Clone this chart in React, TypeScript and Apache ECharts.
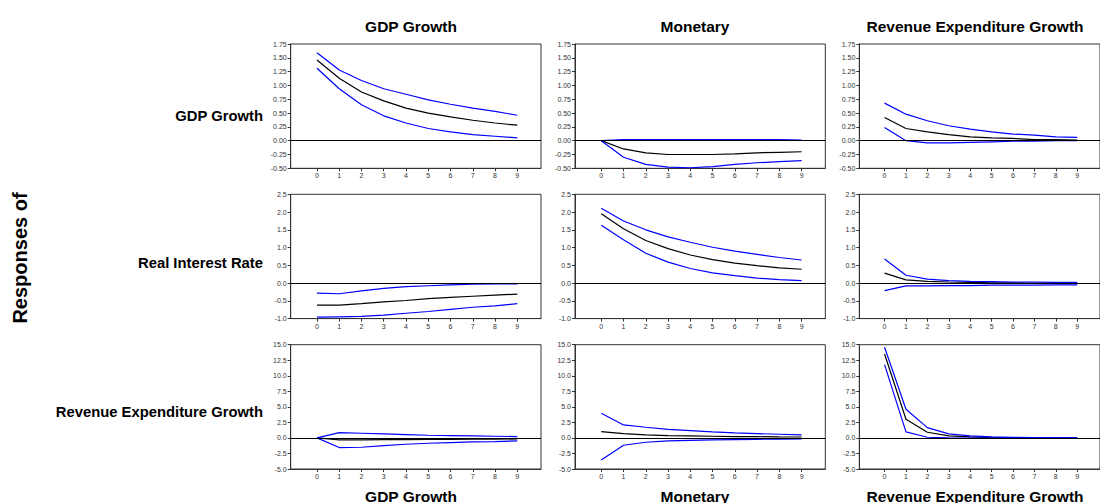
import React, { useEffect, useRef } from "react";
import * as echarts from "echarts";

const steps = [0, 1, 2, 3, 4, 5, 6, 7, 8, 9];
const shockNames = ["GDP Growth", "Monetary", "Revenue Expenditure Growth"];
const responseNames = ["GDP Growth", "Real Interest Rate", "Revenue Expenditure Growth"];

// Row 1: response of GDP Growth
const gdpToGdpUp = [1.59, 1.28, 1.09, 0.94, 0.84, 0.74, 0.66, 0.59, 0.53, 0.46];
const gdpToGdpMid = [1.46, 1.13, 0.88, 0.72, 0.59, 0.5, 0.43, 0.37, 0.32, 0.28];
const gdpToGdpLo = [1.31, 0.94, 0.65, 0.45, 0.32, 0.22, 0.16, 0.11, 0.08, 0.05];

const gdpToMonUp = [0, 0.02, 0.02, 0.02, 0.02, 0.02, 0.02, 0.02, 0.02, 0.01];
const gdpToMonMid = [0, -0.15, -0.22, -0.25, -0.25, -0.25, -0.24, -0.22, -0.21, -0.2];
const gdpToMonLo = [0, -0.3, -0.43, -0.48, -0.49, -0.47, -0.43, -0.4, -0.38, -0.36];

const gdpToRevUp = [0.68, 0.48, 0.36, 0.27, 0.21, 0.16, 0.12, 0.1, 0.07, 0.06];
const gdpToRevMid = [0.42, 0.22, 0.16, 0.11, 0.07, 0.05, 0.04, 0.02, 0.02, 0.01];
const gdpToRevLo = [0.24, 0.0, -0.04, -0.04, -0.03, -0.02, -0.01, -0.01, 0.0, 0.0];

// Row 2: response of Real Interest Rate
const rirToGdpUp = [-0.28, -0.3, -0.22, -0.15, -0.1, -0.075, -0.05, -0.03, -0.02, -0.02];
const rirToGdpMid = [-0.62, -0.62, -0.58, -0.53, -0.49, -0.44, -0.4, -0.37, -0.34, -0.31];
const rirToGdpLo = [-0.96, -0.95, -0.94, -0.9, -0.85, -0.8, -0.74, -0.68, -0.64, -0.58];

const rirToMonUp = [2.11, 1.75, 1.5, 1.3, 1.15, 1.01, 0.9, 0.81, 0.72, 0.65];
const rirToMonMid = [1.95, 1.53, 1.2, 0.97, 0.79, 0.66, 0.56, 0.49, 0.43, 0.39];
const rirToMonLo = [1.63, 1.22, 0.84, 0.59, 0.41, 0.29, 0.21, 0.14, 0.1, 0.07];

const rirToRevUp = [0.68, 0.22, 0.11, 0.07, 0.05, 0.04, 0.03, 0.03, 0.02, 0.02];
const rirToRevMid = [0.28, 0.09, 0.05, 0.03, 0.02, 0.01, 0.01, 0.0, 0.0, 0.0];
const rirToRevLo = [-0.21, -0.08, -0.08, -0.07, -0.07, -0.06, -0.06, -0.06, -0.05, -0.05];

// Row 3: response of Revenue Expenditure Growth
const revToGdpUp = [0, 0.86, 0.75, 0.64, 0.54, 0.43, 0.38, 0.32, 0.27, 0.21];
const revToGdpMid = [0, -0.3, -0.3, -0.28, -0.27, -0.25, -0.23, -0.21, -0.19, -0.17];
const revToGdpLo = [0, -1.55, -1.5, -1.23, -1.02, -0.86, -0.75, -0.64, -0.59, -0.48];

const revToMonUp = [3.97, 2.09, 1.72, 1.39, 1.18, 0.97, 0.8, 0.7, 0.59, 0.48];
const revToMonMid = [1.02, 0.7, 0.48, 0.38, 0.32, 0.27, 0.22, 0.2, 0.17, 0.15];
const revToMonLo = [-3.54, -1.18, -0.7, -0.48, -0.38, -0.32, -0.27, -0.22, -0.19, -0.16];

const revToRevUp = [14.58, 4.61, 1.66, 0.64, 0.32, 0.16, 0.1, 0.06, 0.04, 0.03];
const revToRevMid = [13.5, 3.0, 0.91, 0.32, 0.16, 0.05, 0.03, 0.02, 0.01, 0.01];
const revToRevLo = [11.8, 0.97, 0.11, 0.0, -0.02, -0.01, 0.0, 0.0, 0.0, 0.0];

const panels = [
  [
    [gdpToGdpUp, gdpToGdpMid, gdpToGdpLo],
    [gdpToMonUp, gdpToMonMid, gdpToMonLo],
    [gdpToRevUp, gdpToRevMid, gdpToRevLo],
  ],
  [
    [rirToGdpUp, rirToGdpMid, rirToGdpLo],
    [rirToMonUp, rirToMonMid, rirToMonLo],
    [rirToRevUp, rirToRevMid, rirToRevLo],
  ],
  [
    [revToGdpUp, revToGdpMid, revToGdpLo],
    [revToMonUp, revToMonMid, revToMonLo],
    [revToRevUp, revToRevMid, revToRevLo],
  ],
];

const rowScales = [
  { min: -0.5, max: 1.75, interval: 0.25, digits: 2 },
  { min: -1.0, max: 2.5, interval: 0.5, digits: 1 },
  { min: -5.0, max: 15.0, interval: 2.5, digits: 1 },
];

const FONT = "'Liberation Sans', Arial, Helvetica, sans-serif";

export default function App() {
  const ref = useRef<HTMLDivElement>(null);

  useEffect(() => {
    if (!ref.current) return;
    const chart = echarts.init(ref.current, null, { renderer: "svg" });

    const colLeft = [290.7, 575, 859.3];
    const rowTop = [44, 194.3, 344.7];
    const gw = 250.3;
    const gh = 124.3;

    const grids: any[] = [];
    const xAxes: any[] = [];
    const yAxes: any[] = [];
    const series: any[] = [];

    for (let r = 0; r < 3; r++) {
      for (let c = 0; c < 3; c++) {
        const idx = r * 3 + c;
        grids.push({
          left: colLeft[c],
          top: rowTop[r],
          width: gw,
          height: gh,
          show: true,
          borderColor: "#333",
          borderWidth: 1,
          backgroundColor: "transparent",
        });
        xAxes.push({
          type: "value",
          gridIndex: idx,
          min: -1.18,
          max: 10.065,
          splitLine: { show: false },
          axisLine: { show: true, onZero: false, lineStyle: { color: "#333", width: 1 } },
          axisTick: { show: true, customValues: steps, length: 3, lineStyle: { color: "#333" } },
          axisLabel: {
            customValues: steps,
            fontSize: 7,
            color: "#333",
            margin: 4,
            fontFamily: FONT,
          },
        });
        const sc = rowScales[r];
        yAxes.push({
          type: "value",
          gridIndex: idx,
          min: sc.min,
          max: sc.max,
          interval: sc.interval,
          splitLine: { show: false },
          axisLine: { show: true, onZero: false, lineStyle: { color: "#333", width: 1 } },
          axisTick: { show: true, length: 3, lineStyle: { color: "#333" } },
          axisLabel: {
            fontSize: 7,
            color: "#333",
            margin: 4,
            fontFamily: FONT,
            formatter: (v: number) => v.toFixed(sc.digits),
          },
        });
        const [up, mid, lo] = panels[r][c];
        const mk = (arr: number[]) => steps.map((s, i) => [s, arr[i]]);
        series.push({
          type: "line",
          xAxisIndex: idx,
          yAxisIndex: idx,
          data: mk(mid),
          symbol: "none",
          lineStyle: { color: "#000", width: 1.2 },
          z: 3,
          markLine: {
            silent: true,
            symbol: ["none", "none"],
            label: { show: false },
            lineStyle: { color: "#000", width: 1, type: "solid" },
            data: [{ yAxis: 0 }],
          },
        });
        series.push({
          type: "line",
          xAxisIndex: idx,
          yAxisIndex: idx,
          data: mk(up),
          symbol: "none",
          lineStyle: { color: "#0000ff", width: 1.2 },
          z: 4,
        });
        series.push({
          type: "line",
          xAxisIndex: idx,
          yAxisIndex: idx,
          data: mk(lo),
          symbol: "none",
          lineStyle: { color: "#0000ff", width: 1.2 },
          z: 4,
        });
      }
    }

    const graphics: any[] = [];
    const colCenters = [411, 695, 975];
    for (let c = 0; c < 3; c++) {
      graphics.push({
        type: "text",
        x: colCenters[c],
        y: 26,
        style: {
          text: shockNames[c],
          font: `bold 15.5px ${FONT}`,
          fill: "#000",
          textAlign: "center",
          textVerticalAlign: "middle",
        },
      });
      graphics.push({
        type: "text",
        x: colCenters[c],
        y: 496,
        style: {
          text: shockNames[c],
          font: `bold 15.5px ${FONT}`,
          fill: "#000",
          textAlign: "center",
          textVerticalAlign: "middle",
        },
      });
    }
    const rowLabelY = [116, 263, 412];
    for (let r = 0; r < 3; r++) {
      graphics.push({
        type: "text",
        x: 263,
        y: rowLabelY[r],
        style: {
          text: responseNames[r],
          font: `bold 14.8px ${FONT}`,
          fill: "#000",
          textAlign: "right",
          textVerticalAlign: "middle",
        },
      });
    }
    graphics.push({
      type: "text",
      x: 20,
      y: 258,
      rotation: Math.PI / 2,
      style: {
        text: "Responses of",
        font: `bold 20px ${FONT}`,
        fill: "#000",
        textAlign: "center",
        textVerticalAlign: "middle",
      },
    });

    chart.setOption({
      animation: false,
      backgroundColor: "#fff",
      grid: grids,
      xAxis: xAxes,
      yAxis: yAxes,
      series,
      graphic: graphics,
    });

    return () => chart.dispose();
  }, []);

  return (
    <div
      ref={ref}
      style={{ position: "fixed", left: 0, top: 0, width: 1100, height: 503 }}
    />
  );
}
